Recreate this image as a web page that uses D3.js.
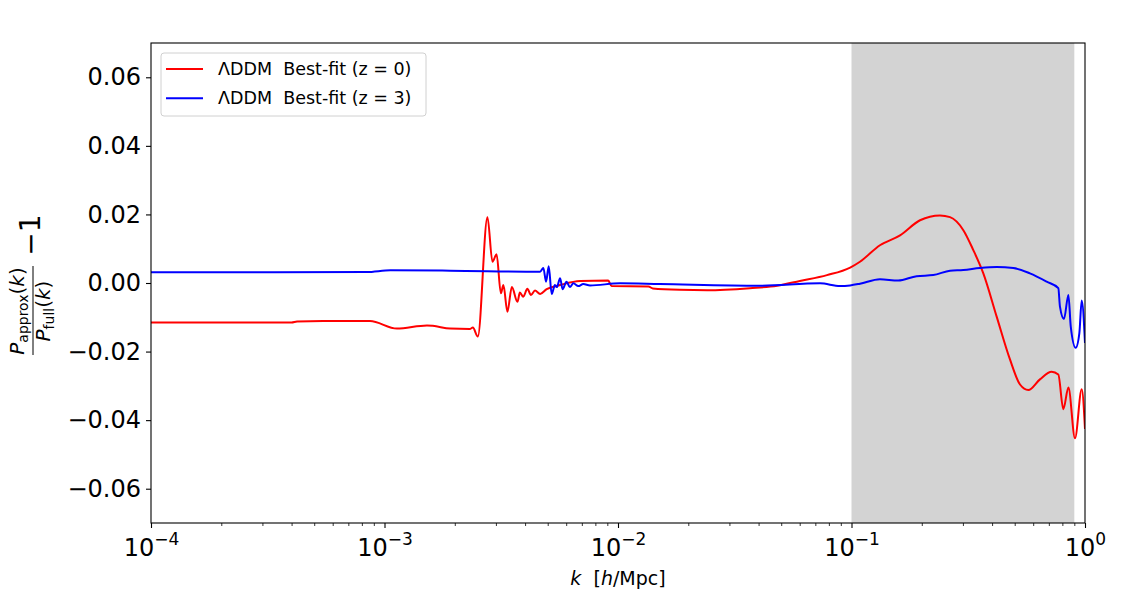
<!DOCTYPE html>
<html><head><meta charset="utf-8">
<script src="https://cdn.jsdelivr.net/npm/d3@7"></script>
<style>body{margin:0;background:#fff;}svg{display:block;font-family:"DejaVu Sans",sans-serif;}</style>
</head><body>
<svg id="c" width="1139" height="593"></svg>
<script>
// ---- data ----
const redK = [1e-4,4.0e-4,4.22e-4,5.46e-4,8.67e-4,1.13e-3,1.52e-3,1.61e-3,1.91e-3,2.32e-3,2.39e-3,2.51e-3,2.76e-3,2.90e-3,3.02e-3,3.15e-3,3.23e-3,3.36e-3,3.51e-3,3.71e-3,3.80e-3,3.93e-3,4.09e-3,4.24e-3,4.41e-3,4.64e-3,4.95e-3,5.65e-3,6.88e-3,9.08e-3,9.39e-3,1.35e-2,1.41e-2,1.84e-2,2.41e-2,3.67e-2,4.80e-2,6.01e-2,7.85e-2,9.87e-2,0.1087,0.1324,0.1614,0.1965,0.2393,0.2642,0.3013,0.3324,0.3669,0.4185,0.4772,0.5268,0.5718,0.6412,0.7196,0.7686,0.8075,0.8489,0.906,0.968,1.0];
const redV = [-0.0115,-0.0115,-0.0112,-0.0111,-0.0111,-0.0133,-0.0124,-0.0125,-0.0133,-0.0134,-0.0130,-0.0156,0.0192,0.0062,0.0084,-0.0030,-0.0006,-0.0084,-0.0012,-0.0055,-0.0028,-0.0040,-0.0017,-0.0035,-0.0022,-0.0032,-0.0018,-0.0006,0.0006,0.0007,-0.0009,-0.0010,-0.0016,-0.0020,-0.0021,-0.0015,-0.0008,0.0006,0.0023,0.0045,0.0062,0.0110,0.0139,0.0183,0.0197,0.0192,0.0154,0.0096,0.0028,-0.0098,-0.0223,-0.0296,-0.0312,-0.0281,-0.0259,-0.0267,-0.0368,-0.0305,-0.0453,-0.0310,-0.0426];
const blueK = [1e-4,8.39e-4,1.06e-3,1.91e-3,4.64e-3,4.79e-3,4.92e-3,5.05e-3,5.20e-3,5.37e-3,5.47e-3,5.65e-3,5.79e-3,6.02e-3,6.22e-3,6.44e-3,6.76e-3,7.10e-3,7.59e-3,1.02e-2,1.51e-2,4.03e-2,7.33e-2,8.93e-2,9.87e-2,0.1087,0.1324,0.1585,0.190,0.2239,0.2642,0.3013,0.3548,0.4185,0.4932,0.5808,0.6851,0.7686,0.7812,0.8128,0.8489,0.869,0.912,0.946,0.968,1.0];
const blueV = [0.0031,0.0032,0.0037,0.0036,0.0033,0.0044,0.0004,0.0049,-0.0032,-0.0006,-0.0012,0.0014,-0.0018,0.0004,-0.0012,-0.0001,-0.0009,-0.0003,-0.0007,-0.0001,-0.0003,-0.0008,-0.0001,-0.0009,-0.0007,-0.0002,0.0011,0.0007,0.0020,0.0023,0.0036,0.0038,0.0044,0.0047,0.0044,0.0028,0.0004,-0.0015,-0.0069,-0.0105,-0.0035,-0.0127,-0.0189,-0.0146,-0.0051,-0.0175];
const seriesNames = ["\u039bDDM  Best-fit (z = 0)", "\u039bDDM  Best-fit (z = 3)"];
const seriesColors = ["#ff0000", "#0000ff"];
const yTicks = [-0.06,-0.04,-0.02,0.00,0.02,0.04,0.06];
const xTicks = [1e-4,1e-3,1e-2,1e-1,1];
const xTickExp = ["\u22124","\u22123","\u22122","\u22121","0"];
const band = [0.1, 0.9];

// ---- layout ----
const svg = d3.select("#c");
const L = 151, R = 1085, T = 43, B = 523;
const x = d3.scaleLog().domain([1e-4, 1]).range([L, R]);
const y = d3.scaleLinear().domain([-0.07, 0.07]).range([B, T]);

svg.append("defs").append("clipPath").attr("id","clip")
  .append("rect").attr("x",L).attr("y",T).attr("width",R-L).attr("height",B-T);

// shaded band
svg.append("rect").attr("x", x(band[0])).attr("y", T).attr("width", x(band[1]) - x(band[0])).attr("height", B - T).attr("fill", "#d3d3d3");

// lines
const line = d3.line().x(d => x(d[0])).y(d => y(d[1])).curve(d3.curveMonotoneX);
const redData = redK.map((k,i)=>[k, redV[i]]);
const blueData = blueK.map((k,i)=>[k, blueV[i]]);
const g = svg.append("g").attr("clip-path","url(#clip)");
g.append("path").datum(redData).attr("d", line).attr("fill","none").attr("stroke",seriesColors[0]).attr("stroke-width",2).attr("stroke-linejoin","round");
g.append("path").datum(blueData).attr("d", line).attr("fill","none").attr("stroke",seriesColors[1]).attr("stroke-width",2).attr("stroke-linejoin","round");

// axes
const yAxis = d3.axisLeft(y).tickValues(yTicks).tickFormat(d3.format(".2f")).tickSize(5).tickPadding(5);
const ya = svg.append("g").attr("transform",`translate(${L},0)`).call(yAxis);
ya.select(".domain").remove();
ya.selectAll("text").attr("font-size", 24).attr("font-family","DejaVu Sans").attr("fill","#000");
ya.selectAll("line").attr("stroke","#000").attr("stroke-width",1.1);

const minor = [];
for (let e = -4; e < 0; e++) for (let m = 2; m <= 9; m++) minor.push(m * Math.pow(10, e));
const xAxisMinor = d3.axisBottom(x).tickValues(minor).tickFormat("").tickSize(3);
const xm = svg.append("g").attr("transform",`translate(0,${B})`).call(xAxisMinor);
xm.select(".domain").remove();
xm.selectAll("line").attr("stroke","#000").attr("stroke-width",0.8);

const xAxis = d3.axisBottom(x).tickValues(xTicks).tickFormat("").tickSize(5);
const xa = svg.append("g").attr("transform",`translate(0,${B})`).call(xAxis);
xa.select(".domain").remove();
xa.selectAll("line").attr("stroke","#000").attr("stroke-width",1.1);
xa.selectAll("g.tick").each(function(d, i) {
  const t = d3.select(this).append("text").attr("y", 33).attr("text-anchor","middle")
    .attr("fill","#000").attr("font-size",24).attr("font-family","DejaVu Sans");
  t.append("tspan").text("10");
  t.append("tspan").attr("dy",-11).attr("font-size",17).text(xTickExp[i]);
});

// frame
svg.append("rect").attr("x",L).attr("y",T).attr("width",R-L).attr("height",B-T)
  .attr("fill","none").attr("stroke","#000").attr("stroke-width",1.1);

// x label
const xl = svg.append("text").attr("x", 618).attr("y", 585).attr("text-anchor","middle")
  .attr("font-size",19).attr("font-family","DejaVu Sans");
xl.append("tspan").attr("font-style","italic").text("k");
xl.append("tspan").text("\u00a0 [");
xl.append("tspan").attr("font-style","italic").text("h");
xl.append("tspan").text("/Mpc]");

// y label (fraction - 1)
function mathText(x0, y0, sub) {
  const t = svg.append("text").attr("transform",`translate(${x0},${y0}) rotate(-90)`)
    .attr("text-anchor","middle").attr("font-size",20).attr("font-family","DejaVu Sans");
  t.append("tspan").attr("font-style","italic").text("P");
  t.append("tspan").attr("font-size",14).attr("dy",4).text(sub);
  t.append("tspan").attr("dy",-4).text("(");
  t.append("tspan").attr("font-style","italic").text("k");
  t.append("tspan").text(")");
}
mathText(24, 311, "approx");
mathText(50, 311, "full");
svg.append("line").attr("x1",33).attr("x2",33).attr("y1",266).attr("y2",355).attr("stroke","#000").attr("stroke-width",1);
svg.append("text").attr("transform","translate(40,235) rotate(-90)").attr("text-anchor","middle")
  .attr("font-size",28).attr("font-family","DejaVu Sans").text("\u22121");

// legend
const lg = svg.append("g");
lg.append("rect").attr("x",161).attr("y",53).attr("width",265).attr("height",63).attr("rx",3)
  .attr("fill","#fff").attr("fill-opacity",0.8).attr("stroke","#d0d0d0").attr("stroke-width",1);
seriesNames.forEach((n, i) => {
  const yy = 69 + i * 29.3;
  lg.append("line").attr("x1",166).attr("x2",203).attr("y1",yy).attr("y2",yy).attr("stroke",seriesColors[i]).attr("stroke-width",2);
  lg.append("text").attr("x",218).attr("y",yy+6).attr("font-size",17.5).attr("font-family","DejaVu Sans")
    .style("white-space","pre").text(n);
});
</script>
</body></html>
